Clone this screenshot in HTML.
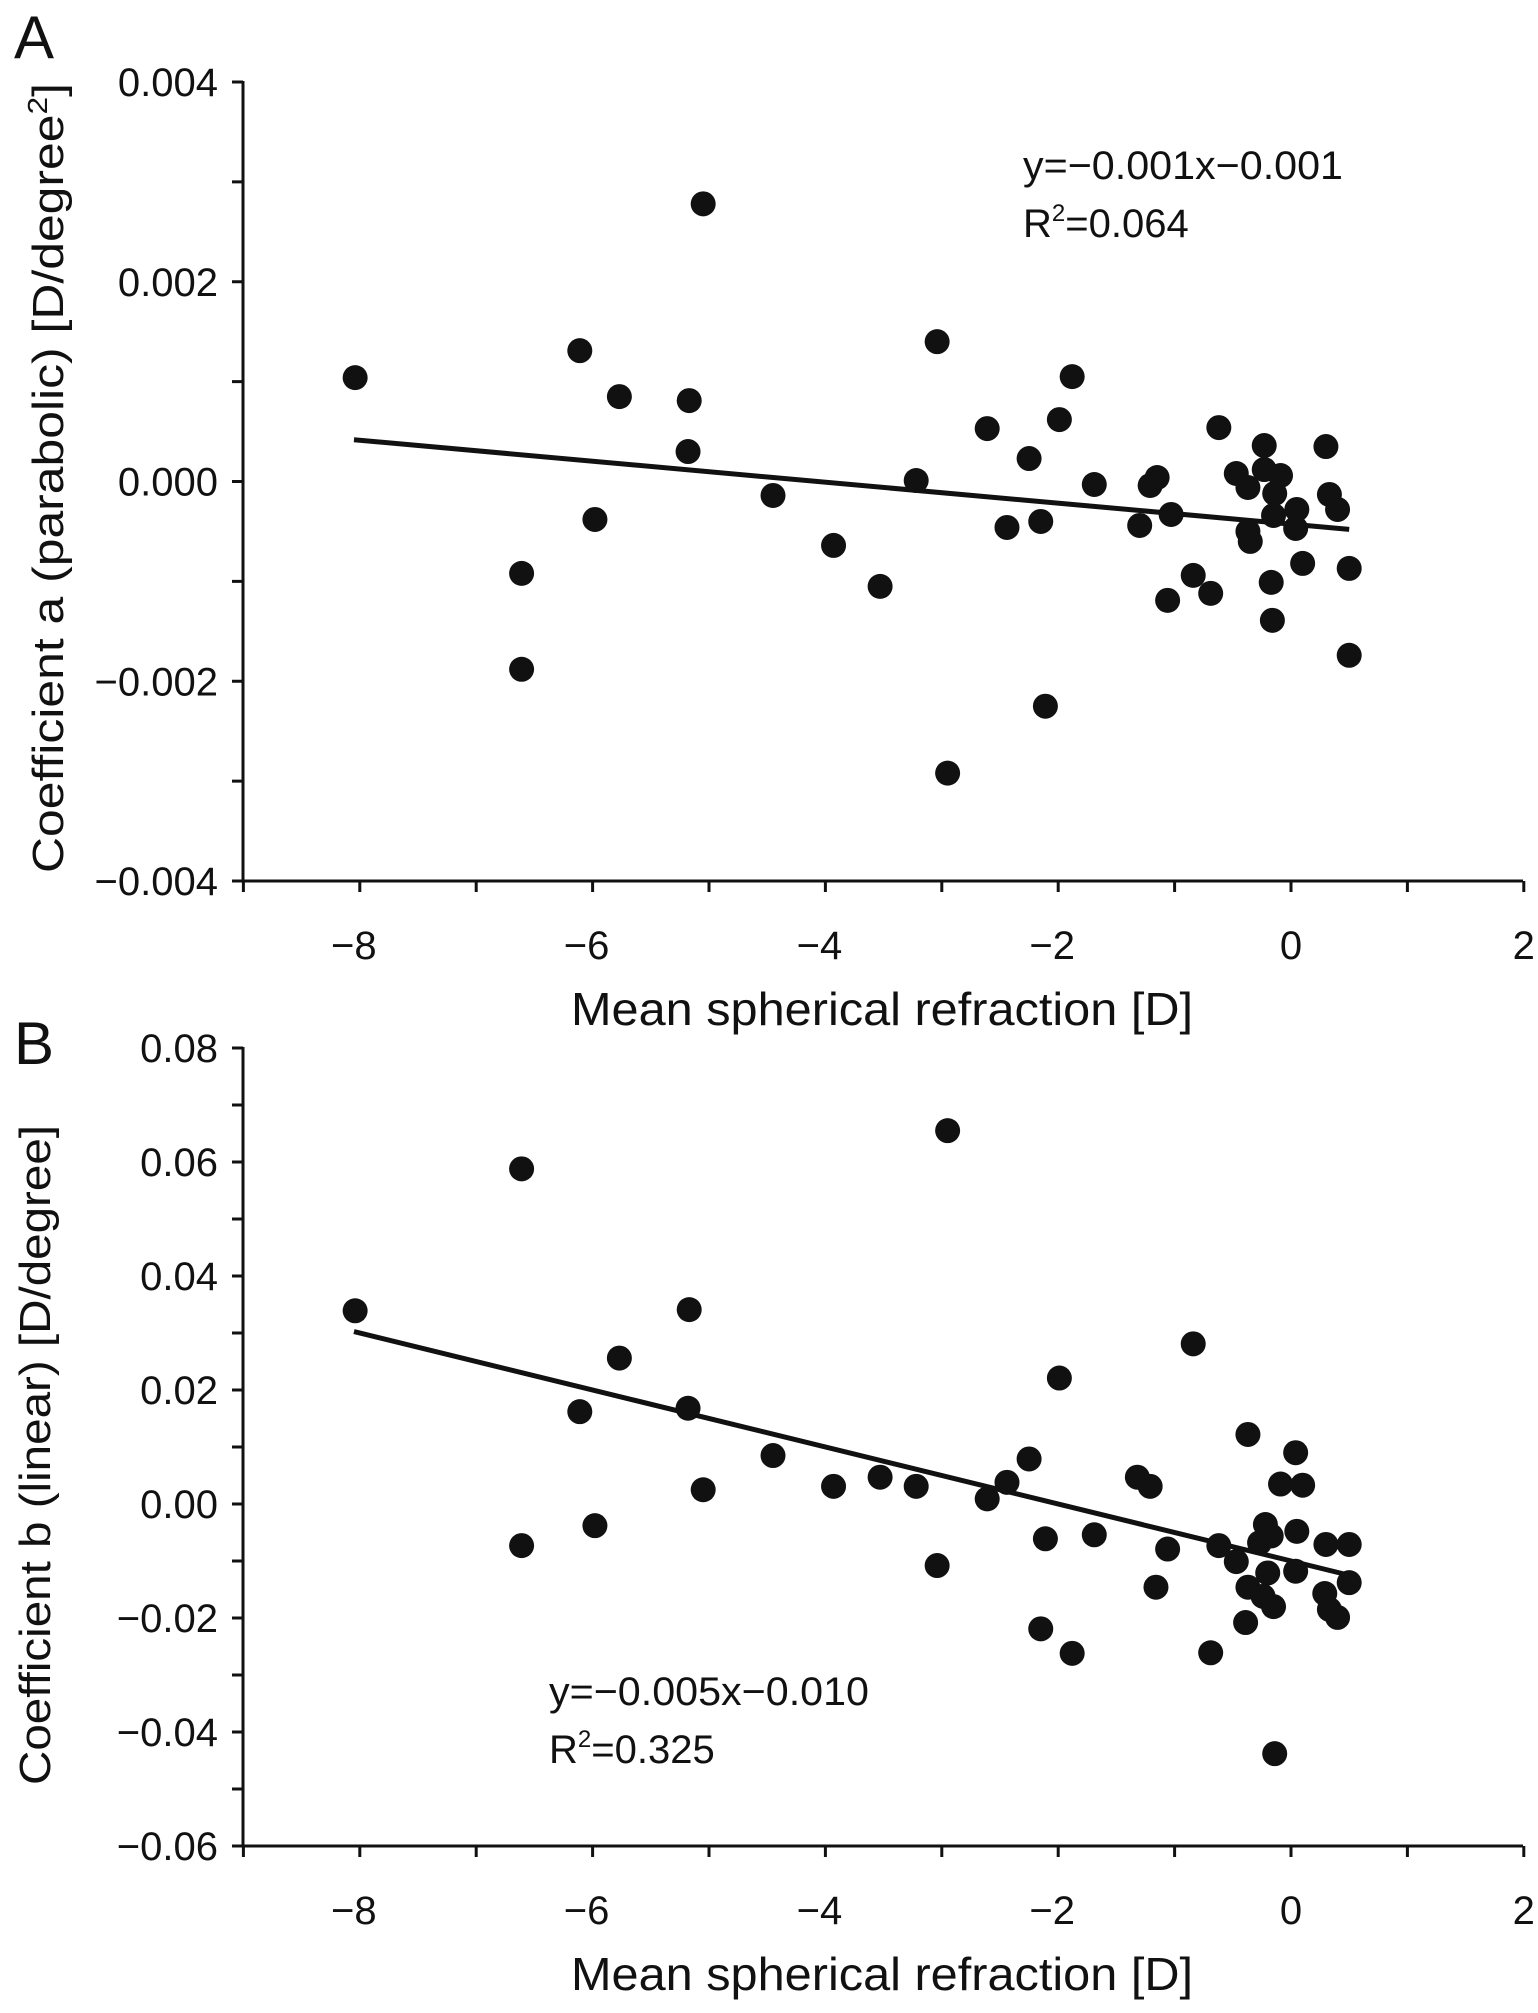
<!DOCTYPE html>
<html><head><meta charset="utf-8"><style>
body{margin:0;background:#fff}
svg text{font-family:"Liberation Sans Narrow","Liberation Sans",sans-serif;fill:#111}
</style></head><body>
<svg id="chart" width="1538" height="2008" viewBox="0 0 1538 2008" xmlns="http://www.w3.org/2000/svg">
<text x="14" y="58" font-size="60" style="font-family:'Liberation Sans',sans-serif">A</text>
<text x="14" y="1064" font-size="60" style="font-family:'Liberation Sans',sans-serif">B</text>
</svg>
<script>
const xTicks=[-8,-6,-4,-2,0,2];
const xTickLabels=["\u22128","\u22126","\u22124","\u22122","0","2"];
const aYTicks=[0.004,0.002,0,-0.002,-0.004];
const aYTickLabels=["0.004","0.002","0.000","\u22120.002","\u22120.004"];
const bYTicks=[0.08,0.06,0.04,0.02,0,-0.02,-0.04,-0.06];
const bYTickLabels=["0.08","0.06","0.04","0.02","0.00","\u22120.02","\u22120.04","\u22120.06"];
const aX=[-8.04,-6.61,-6.61,-6.11,-5.98,-5.77,-5.17,-5.18,-5.05,-4.45,-3.93,-3.53,-3.04,-3.22,-2.95,-2.61,-2.44,-2.25,-2.15,-2.11,-1.99,-1.88,-1.69,-1.30,-1.21,-1.15,-1.06,-1.03,-0.84,-0.69,-0.62,-0.47,-0.37,-0.37,-0.35,-0.23,-0.23,-0.17,-0.16,-0.14,-0.15,-0.09,0.05,0.04,0.10,0.30,0.33,0.40,0.50,0.50];
const aY=[0.00104,-0.00092,-0.00188,0.00131,-0.00038,0.00085,0.00081,0.00030,0.00278,-0.00014,-0.00064,-0.00105,0.00140,0.00001,-0.00292,0.00053,-0.00046,0.00023,-0.00040,-0.00225,0.00062,0.00105,-0.00003,-0.00044,-0.00004,0.00004,-0.00119,-0.00033,-0.00094,-0.00112,0.00054,0.00008,-0.00006,-0.00050,-0.00060,0.00036,0.00012,-0.00101,-0.00139,-0.00012,-0.00034,0.00006,-0.00028,-0.00047,-0.00082,0.00035,-0.00013,-0.00028,-0.00087,-0.00174];
const aFit=[-0.000105,-0.000427];
const bX=[-8.04,-6.61,-6.61,-6.11,-5.98,-5.77,-5.17,-5.18,-5.05,-4.45,-3.93,-3.53,-3.22,-3.04,-2.95,-2.61,-2.44,-2.25,-2.15,-2.11,-1.99,-1.88,-1.69,-1.32,-1.21,-1.16,-1.06,-0.84,-0.69,-0.62,-0.47,-0.37,-0.37,-0.39,-0.27,-0.22,-0.20,-0.24,-0.17,-0.15,-0.14,-0.09,0.04,0.05,0.04,0.10,0.29,0.30,0.33,0.40,0.50,0.50];
const bY=[0.0339,0.0588,-0.0073,0.0162,-0.0038,0.0256,0.0341,0.0168,0.0025,0.0085,0.0031,0.0047,0.0031,-0.0108,0.0655,0.0009,0.0038,0.0079,-0.0219,-0.0061,0.0221,-0.0262,-0.0054,0.0047,0.0031,-0.0146,-0.0079,0.0281,-0.0261,-0.0073,-0.0101,0.0122,-0.0146,-0.0208,-0.0068,-0.0036,-0.0121,-0.0162,-0.0056,-0.0180,-0.0438,0.0035,0.0090,-0.0048,-0.0118,0.0033,-0.0157,-0.0071,-0.0185,-0.0199,-0.0071,-0.0138];
const bFit=[-0.005,-0.010];

const NS="http://www.w3.org/2000/svg";
const svg=document.getElementById('chart');
function mk(tag,attrs,parent){const e=document.createElementNS(NS,tag);for(const k in attrs)e.setAttribute(k,attrs[k]);(parent||svg).appendChild(e);return e;}
const xL=243,xR=1523;
const sx=v=>1291+116.4*v;

function panel(p){
  const g=mk('g',{});
  
  
  const sy=v=>p.y0+(v-p.yMax)*(p.y1-p.y0)/(p.yMin-p.yMax);
  const ax=mk('path',{d:`M${xL} ${p.y0-1}V${p.y1}H${xR}`,stroke:'#111','stroke-width':3,fill:'none'},g);
  
  
  for(let v=-9;v<=2;v++){
    const t=mk('line',{x1:sx(v),x2:sx(v),y1:p.y1,y2:p.y1+11,stroke:'#111','stroke-width':3},g);
    
    
  }
  xTicks.forEach((v,i)=>{
    const t=mk('text',{x:sx(v)-(xTickLabels[i].length>1?6:0),y:p.y1+78,'font-size':40,'text-anchor':'middle'},g);
    t.textContent=xTickLabels[i];
    
    
  });
  const step=(p.yTicks[0]-p.yTicks[1])/2;
  for(let v=p.yMin;v<=p.yMax+1e-9;v+=step){
    const t=mk('line',{x1:xL-11,x2:xL,y1:sy(v),y2:sy(v),stroke:'#111','stroke-width':3},g);
    
    
  }
  p.yTicks.forEach((v,i)=>{
    const t=mk('text',{x:218,y:sy(v)+14,'font-size':40,'text-anchor':'end'},g);
    t.textContent=p.yLabels[i];
    
    
  });
  const xt=mk('text',{x:882,y:p.y1+144,'font-size':46,'text-anchor':'middle',textLength:622,lengthAdjust:'spacingAndGlyphs'},g);
  xt.textContent='Mean spherical refraction [D]';
  
  
  const yt=mk('text',{x:0,y:0,'font-size':44,'text-anchor':'middle',textLength:p.yTitleLen,lengthAdjust:'spacingAndGlyphs',transform:`translate(${p.yTitleX},${p.yTitleY}) rotate(-90)`,style:"font-family:'Liberation Sans',sans-serif"},g);
  yt.innerHTML=p.yTitle;
  
  
  p.xs.forEach((x,i)=>{
    const c=mk('circle',{cx:sx(x),cy:sy(p.ys[i]),r:12.5,fill:'#111'},g);
    
    
  });
  const xa=-8.05,xb=0.5;
  const ln=mk('line',{x1:sx(xa),y1:sy(p.fit[0]*xa+p.fit[1]),x2:sx(xb),y2:sy(p.fit[0]*xb+p.fit[1]),stroke:'#111','stroke-width':5},g);
  
  
  const e1=mk('text',{x:p.eqX,y:p.eqY,'font-size':40,textLength:320,lengthAdjust:'spacingAndGlyphs'},g);
  e1.textContent=p.eq;
  
  
  const e2=mk('text',{x:p.eqX,y:p.eqY+58,'font-size':40},g);
  e2.innerHTML='R<tspan dy="-16" font-size="24">2</tspan><tspan dy="16">='+p.r2+'</tspan>';
  
  
}
panel({name:'panel-a',y0:82,y1:881,yMax:0.004,yMin:-0.004,yTicks:aYTicks,yLabels:aYTickLabels,xs:aX,ys:aY,fit:aFit,
  yTitle:'Coefficient a (parabolic) [D/degree<tspan dy="-16" font-size="28">2</tspan><tspan dy="16">]</tspan>',yTitleLen:790,yTitleX:63,yTitleY:478,
  eq:'y=\u22120.001x\u22120.001',eqX:1023,eqY:179,r2:'0.064'});
panel({name:'panel-b',y0:1048,y1:1846,yMax:0.08,yMin:-0.06,yTicks:bYTicks,yLabels:bYTickLabels,xs:bX,ys:bY,fit:bFit,
  yTitle:'Coefficient b (linear) [D/degree]',yTitleLen:660,yTitleX:50,yTitleY:1455,
  eq:'y=\u22120.005x\u22120.010',eqX:549,eqY:1705,r2:'0.325'});
</script>
</body></html>
